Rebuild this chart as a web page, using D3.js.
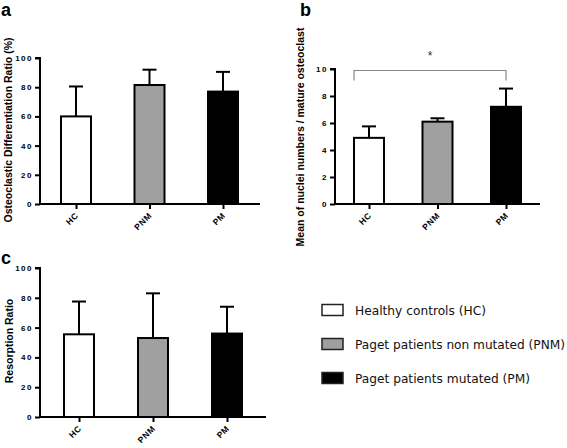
<!DOCTYPE html>
<html><head><meta charset="utf-8">
<script src="https://cdn.jsdelivr.net/npm/d3@7"></script>
<style>
body{margin:0;background:#fff;}
svg{display:block;}
</style></head>
<body>
<svg id="c" width="567" height="448"></svg>
<script>
const categories = ["HC", "PNM", "PM"];
const fills = ["#ffffff", "#a0a0a0", "#000000"];
const legendLabels = ["Healthy controls (HC)", "Paget patients non mutated (PNM)", "Paget patients mutated (PM)"];

const diffMeans = [60, 81.5, 77];
const diffErrTop = [80.5, 92, 90.5];
const diffTicks = [0, 20, 40, 60, 80, 100];

const nucleiMeans = [4.9, 6.1, 7.2];
const nucleiErrTop = [5.75, 6.35, 8.55];
const nucleiTicks = [0, 2, 4, 6, 8, 10];

const resMeans = [55.5, 53, 56];
const resErrTop = [77.5, 83, 74];
const resTicks = [0, 20, 40, 60, 80, 100];

const FONT = "Liberation Sans, Arial, sans-serif";
const svg = d3.select("#c");

function panel(o) {
  const g = svg.append("g");
  const y = d3.scaleLinear().domain([0, o.max]).range([o.y0, o.y1]);
  const x = d3.scalePoint().domain(categories).range([o.c0, o.c2]);
  const bw = 30;
  g.selectAll("rect.bar").data(categories).enter().append("rect")
    .attr("x", d => x(d) - bw / 2)
    .attr("y", (d, i) => y(o.means[i]))
    .attr("width", bw)
    .attr("height", (d, i) => y(0) - y(o.means[i]))
    .attr("fill", (d, i) => fills[i])
    .attr("stroke", "#000").attr("stroke-width", 2);
  g.selectAll("line.err").data(categories).enter().append("line")
    .attr("x1", d => x(d)).attr("x2", d => x(d))
    .attr("y1", (d, i) => y(o.means[i])).attr("y2", (d, i) => y(o.err[i]))
    .attr("stroke", "#000").attr("stroke-width", 2);
  g.selectAll("line.cap").data(categories).enter().append("line")
    .attr("x1", d => x(d) - 7).attr("x2", d => x(d) + 7)
    .attr("y1", (d, i) => y(o.err[i])).attr("y2", (d, i) => y(o.err[i]))
    .attr("stroke", "#000").attr("stroke-width", 2);
  // y axis
  const ya = d3.axisLeft(y).tickValues(o.ticks).tickSize(5).tickPadding(2);
  const yg = g.append("g").attr("transform", `translate(${o.ax},0)`).call(ya);
  yg.select(".domain").attr("stroke-width", 2).attr("d", `M-5,${y(o.max)}H0V${y(0)}`);
  yg.selectAll(".tick line").attr("stroke-width", 2);
  yg.selectAll(".tick text").attr("font-family", FONT)
    .attr("font-size", 8).attr("font-weight", "bold").attr("letter-spacing", 1.5).attr("fill", "#000");
  // x axis
  const xa = d3.axisBottom(x).tickSize(5).tickSizeOuter(0).tickFormat("");
  const xg = g.append("g").attr("transform", `translate(0,${y(0)})`).call(xa);
  xg.select(".domain").attr("stroke-width", 2).attr("d", `M${o.ax},0H${o.xend}`);
  xg.selectAll(".tick line").attr("stroke-width", 2);
  // rotated category labels
  g.selectAll("text.cat").data(categories).enter().append("text")
    .attr("class", "cat")
    .attr("transform", d => `translate(${x(d) + 3},${y(0) + 12}) rotate(-45)`)
    .attr("text-anchor", "end")
    .attr("font-family", FONT).attr("font-size", 8.5).attr("font-weight", "bold")
    .attr("letter-spacing", 0.6).attr("fill", "#000")
    .text(d => d);
  // y label
  g.append("text")
    .attr("transform", `translate(${o.lx},${o.ly}) rotate(-90)`)
    .attr("text-anchor", "middle")
    .attr("font-family", FONT)
    .attr("font-size", o.lfs).attr("font-weight", "bold")
    .text(o.label);
  g.append("text").attr("x", o.px).attr("y", o.py)
    .attr("font-family", FONT)
    .attr("font-size", 18).attr("font-weight", "bold").text(o.letter);
  return {x, y, g};
}

panel({means: diffMeans, err: diffErrTop, ticks: diffTicks, max: 100,
  y0: 204, y1: 58, c0: 76, c2: 223, ax: 40, xend: 260,
  label: "Osteoclastic Differentiation Ratio (%)", lx: 12, ly: 130, lfs: 10.5,
  letter: "a", px: 1, py: 16});

const pb = panel({means: nucleiMeans, err: nucleiErrTop, ticks: nucleiTicks, max: 10,
  y0: 204, y1: 69, c0: 369, c2: 506, ax: 335, xend: 540,
  label: "Mean of nuclei numbers / mature osteoclast", lx: 304, ly: 137, lfs: 10.5,
  letter: "b", px: 300, py: 16});

const by = 70.5;
pb.g.append("path")
  .attr("d", `M${pb.x("HC") - 15},${by + 10}V${by}H${pb.x("PM")}V${by + 10}`)
  .attr("fill", "none").attr("stroke", "#888").attr("stroke-width", 1.2);
pb.g.append("text").attr("x", (pb.x("HC") - 15 + pb.x("PM")) / 2).attr("y", 60)
  .attr("text-anchor", "middle").attr("font-family", FONT)
  .attr("font-size", 12).attr("fill", "#333").text("*");

panel({means: resMeans, err: resErrTop, ticks: resTicks, max: 100,
  y0: 417, y1: 268, c0: 79, c2: 227, ax: 40, xend: 266,
  label: "Resorption Ratio", lx: 13, ly: 341, lfs: 10.5,
  letter: "c", px: 1, py: 264});

// legend
const legendWidths = [131, 210, 175];
const lg = svg.append("g");
const ly = d3.scalePoint().domain(categories).range([310, 378]);
lg.selectAll("rect").data(categories).enter().append("rect")
  .attr("x", 322).attr("y", d => ly(d) - 5.5).attr("width", 21).attr("height", 11)
  .attr("fill", (d, i) => fills[i]).attr("stroke", "#222").attr("stroke-width", 1.5);
lg.selectAll("text").data(categories).enter().append("text")
  .attr("x", 355).attr("y", d => ly(d) + 4.5)
  .attr("font-family", "DejaVu Sans Condensed, DejaVu Sans, sans-serif").attr("font-size", 13).attr("fill", "#111")
  .attr("textLength", (d, i) => legendWidths[i]).attr("lengthAdjust", "spacingAndGlyphs")
  .text((d, i) => legendLabels[i]);
</script>
</body></html>
